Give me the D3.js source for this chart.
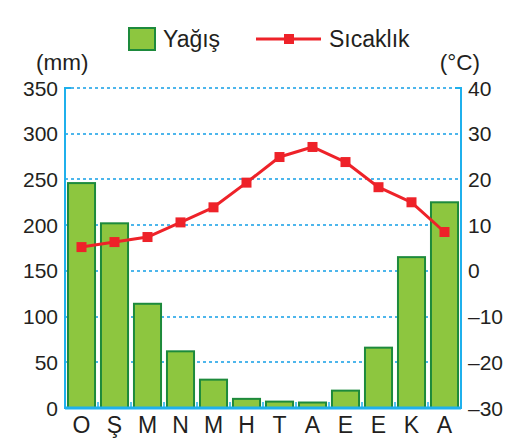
<!DOCTYPE html>
<html><head><meta charset="utf-8">
<script src="https://cdn.jsdelivr.net/npm/d3@7/dist/d3.min.js"></script>
<style>body{margin:0;background:#fff}svg{display:block}text{font-family:"Liberation Sans",Arial,sans-serif;fill:#231f20}</style>
</head><body>
<svg id="c" width="519" height="439"></svg>
<script>
const months = ["O","Ş","M","N","M","H","T","A","E","E","K","A"];
const precipitation = [246, 202, 114, 62, 31, 10, 7, 6, 19, 66, 165, 225];
const temperature = [5.2, 6.3, 7.4, 10.6, 13.9, 19.3, 24.9, 27.1, 23.8, 18.3, 15.0, 8.5];
const leftTicks = [0, 50, 100, 150, 200, 250, 300, 350];
const rightTicks = [-30, -20, -10, 0, 10, 20, 30, 40];

const svg = d3.select("#c");
const L = 65, R = 461, T = 88, B = 408;
const blue = "#1fb0ec";
const x = d3.scaleBand().domain(d3.range(months.length)).range([L, R]).paddingInner(0.18).paddingOuter(0.09);
const yL = d3.scaleLinear().domain([0, 350]).range([B, T]);
const yR = d3.scaleLinear().domain([-30, 40]).range([B, T]);

// grid
svg.append("g").selectAll("line").data(leftTicks.filter(d => d > 0)).join("line")
  .attr("x1", L).attr("x2", R).attr("y1", d => Math.round(yL(d))).attr("y2", d => Math.round(yL(d)))
  .attr("stroke", "#4db6ec").attr("stroke-width", 2).attr("stroke-dasharray", "3,3");

// bars
svg.append("g").selectAll("rect").data(precipitation).join("rect")
  .attr("x", (d, i) => x(i)).attr("width", x.bandwidth())
  .attr("y", d => yL(d)).attr("height", d => yL(0) - yL(d))
  .attr("fill", "#8dc63f").attr("stroke", "#1d8a3c").attr("stroke-width", 2);

// axes lines
svg.append("line").attr("x1", L).attr("x2", L).attr("y1", T - 1).attr("y2", B + 1).attr("stroke", blue).attr("stroke-width", 2);
svg.append("line").attr("x1", R).attr("x2", R).attr("y1", T - 1).attr("y2", B + 1).attr("stroke", blue).attr("stroke-width", 2);
svg.append("line").attr("x1", L).attr("x2", R).attr("y1", B).attr("y2", B).attr("stroke", blue).attr("stroke-width", 3);
svg.append("line").attr("x1", L - 1).attr("x2", L + 6).attr("y1", T).attr("y2", T).attr("stroke", blue).attr("stroke-width", 2);
svg.append("line").attr("x1", R - 6).attr("x2", R + 1).attr("y1", T).attr("y2", T).attr("stroke", blue).attr("stroke-width", 2);
// band boundary ticks
svg.append("g").selectAll("line").data(d3.range(1, months.length)).join("line")
  .attr("x1", i => L + x.step() * i).attr("x2", i => L + x.step() * i)
  .attr("y1", B).attr("y2", B - 6).attr("stroke", blue).attr("stroke-width", 1.5);

// left ticks
svg.append("g").selectAll("text").data(leftTicks).join("text")
  .attr("x", 58).attr("y", d => yL(d)).attr("dy", "0.36em").attr("text-anchor", "end")
  .attr("font-size", 21).text(d => d);
// right ticks
svg.append("g").selectAll("text").data(rightTicks).join("text")
  .attr("x", 468).attr("y", d => yR(d)).attr("dy", "0.36em").attr("text-anchor", "start")
  .attr("font-size", 21).text(d => d < 0 ? "–" + Math.abs(d) : d);
// x labels
svg.append("g").selectAll("text").data(months).join("text")
  .attr("x", (d, i) => x(i) + x.bandwidth() / 2).attr("y", 433).attr("text-anchor", "middle")
  .attr("font-size", 23).text(d => d);

// unit labels
svg.append("text").attr("x", 36).attr("y", 70).attr("font-size", 22.5).text("(mm)");
svg.append("text").attr("x", 480).attr("y", 70).attr("text-anchor", "end").attr("font-size", 22.5).text("(°C)");

// temperature line
const line = d3.line().x((d, i) => x(i) + x.bandwidth() / 2).y(d => yR(d));
svg.append("path").datum(temperature).attr("d", line).attr("fill", "none")
  .attr("stroke", "#ee2229").attr("stroke-width", 3).attr("stroke-linejoin", "round");
const ms = 10;
svg.append("g").selectAll("rect").data(temperature).join("rect")
  .attr("x", (d, i) => x(i) + x.bandwidth() / 2 - ms / 2).attr("y", d => yR(d) - ms / 2)
  .attr("width", ms).attr("height", ms).attr("fill", "#ee2229");

// legend
svg.append("rect").attr("x", 129).attr("y", 28).attr("width", 26).attr("height", 22)
  .attr("fill", "#8dc63f").attr("stroke", "#1d8a3c").attr("stroke-width", 2);
svg.append("text").attr("x", 163).attr("y", 47).attr("font-size", 23).text("Yağış");
svg.append("line").attr("x1", 256).attr("x2", 321).attr("y1", 39).attr("y2", 39).attr("stroke", "#ee2229").attr("stroke-width", 3);
svg.append("rect").attr("x", 284).attr("y", 34).attr("width", 10).attr("height", 10).attr("fill", "#ee2229");
svg.append("text").attr("x", 329).attr("y", 47).attr("font-size", 23).text("Sıcaklık");
</script>
</body></html>
